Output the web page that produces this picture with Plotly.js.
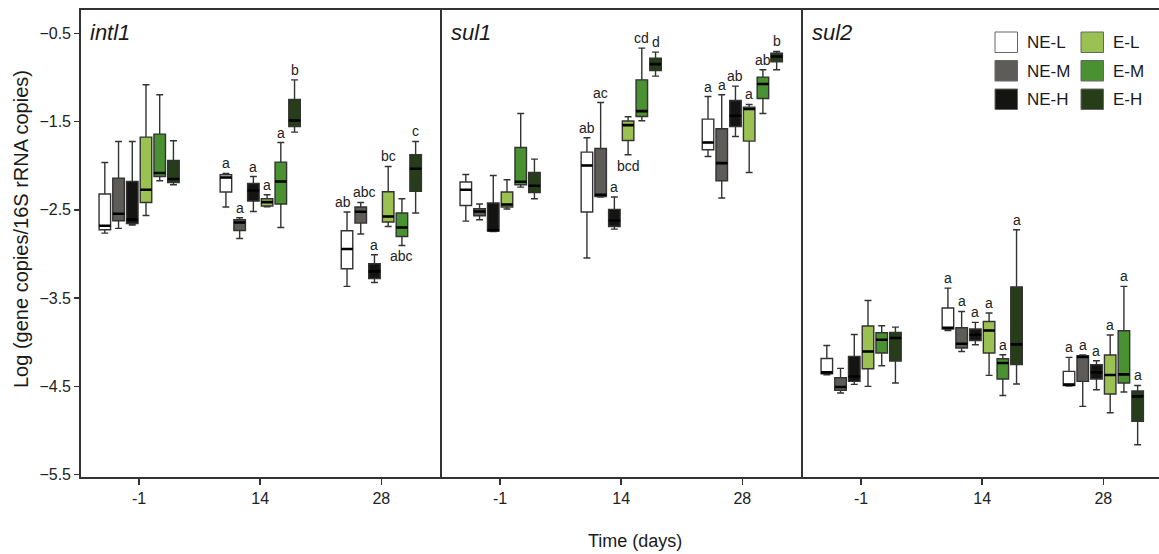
<!DOCTYPE html>
<html><head><meta charset="utf-8">
<script src="https://cdn.plot.ly/plotly-3.0.1.min.js"></script>
<style>html,body{margin:0;padding:0;background:#fff;overflow:hidden}</style>
</head><body><div id="chart" style="width:1159px;height:554px"></div>
<script>
// ---------------- data ----------------
const days = ['-1', '14', '28'];
const groups = ['NE-L', 'NE-M', 'NE-H', 'E-L', 'E-M', 'E-H'];
const colors = ['#ffffff', '#5d5c58', '#141412', '#9cc153', '#4a9132', '#263d19'];
const genes = ['intl1', 'sul1', 'sul2'];

// per group, per day: [lower whisker, Q1, median, Q3, upper whisker]
const intl1 = [
  [[-2.763, -2.725, -2.680, -2.321, -1.963], [-2.468, -2.298, -2.133, -2.103, -2.088], [-3.367, -3.167, -2.944, -2.737, -2.525]],
  [[-2.710, -2.623, -2.544, -2.140, -1.725], [-2.824, -2.733, -2.643, -2.612, -2.589], [-2.774, -2.650, -2.522, -2.468, -2.416]],
  [[-2.672, -2.654, -2.610, -2.178, -1.725], [-2.518, -2.400, -2.280, -2.201, -2.122], [-3.322, -3.277, -3.197, -3.110, -3.008]],
  [[-2.563, -2.416, -2.272, -1.676, -1.083], [-2.465, -2.457, -2.412, -2.374, -2.329], [-2.688, -2.638, -2.575, -2.295, -2.008]],
  [[-2.170, -2.122, -2.083, -1.642, -1.196], [-2.699, -2.434, -2.178, -1.959, -1.737], [-2.903, -2.801, -2.699, -2.536, -2.374]],
  [[-2.216, -2.190, -2.151, -1.940, -1.717], [-1.619, -1.555, -1.488, -1.250, -1.027], [-2.536, -2.291, -2.035, -1.876, -1.725]]
];
const sul1 = [
  [[-2.627, -2.450, -2.272, -2.185, -2.099], [-3.046, -2.525, -1.997, -1.846, -1.683], [-1.895, -1.819, -1.737, -1.472, -1.216]],
  [[-2.612, -2.567, -2.518, -2.488, -2.434], [-2.355, -2.348, -2.329, -1.805, -1.284], [-2.366, -2.170, -1.970, -1.582, -1.196]],
  [[-2.745, -2.740, -2.730, -2.423, -2.110], [-2.718, -2.688, -2.620, -2.495, -2.355], [-1.669, -1.555, -1.434, -1.261, -1.098]],
  [[-2.491, -2.468, -2.439, -2.298, -2.159], [-1.876, -1.714, -1.540, -1.494, -1.446], [-2.076, -1.721, -1.358, -1.336, -1.306]],
  [[-2.242, -2.216, -2.182, -1.793, -1.408], [-1.491, -1.442, -1.381, -1.027, -0.668], [-1.408, -1.238, -1.075, -0.996, -0.913]],
  [[-2.374, -2.303, -2.227, -2.076, -1.925], [-0.985, -0.921, -0.849, -0.781, -0.713], [-0.913, -0.823, -0.763, -0.724, -0.706]]
];
const sul2 = [
  [[-4.367, -4.356, -4.341, -4.183, -4.036], [-3.866, -3.850, -3.835, -3.612, -3.386], [-4.495, -4.490, -4.480, -4.330, -4.171]],
  [[-4.575, -4.545, -4.507, -4.401, -4.296], [-4.104, -4.065, -4.016, -3.835, -3.651], [-4.726, -4.443, -4.167, -4.152, -4.144]],
  [[-4.477, -4.443, -4.387, -4.160, -3.911], [-4.028, -3.979, -3.914, -3.850, -3.775], [-4.537, -4.416, -4.341, -4.254, -4.209]],
  [[-4.500, -4.300, -4.104, -3.816, -3.526], [-4.375, -4.122, -3.866, -3.764, -3.669], [-4.798, -4.586, -4.371, -4.144, -3.918]],
  [[-4.266, -4.122, -3.971, -3.892, -3.813], [-4.602, -4.416, -4.235, -4.186, -4.141], [-4.563, -4.462, -4.364, -3.869, -3.367]],
  [[-4.462, -4.212, -3.952, -3.888, -3.828], [-4.473, -4.251, -4.024, -3.374, -2.725], [-5.160, -4.896, -4.613, -4.552, -4.489]]
];

// significance letters per day (6 groups); 'u' = above upper whisker, 'd' = below lower whisker
const intl1Letters = [['', '', '', '', '', ''], ['a', 'a', 'a', 'a', 'a', 'b'], ['ab', 'abc', 'a', 'bc', 'abc', 'c']];
const intl1LetterPos = [['u', 'u', 'u', 'u', 'u', 'u'], ['u', 'u', 'u', 'u', 'u', 'u'], ['u', 'u', 'u', 'u', 'd', 'u']];
const sul1Letters = [['', '', '', '', '', ''], ['ab', 'ac', 'a', 'bcd', 'cd', 'd'], ['a', 'a', 'ab', 'a', 'ab', 'b']];
const sul1LetterPos = [['u', 'u', 'u', 'u', 'u', 'u'], ['u', 'u', 'u', 'd', 'u', 'u'], ['u', 'u', 'u', 'u', 'u', 'u']];
const sul2Letters = [['', '', '', '', '', ''], ['a', 'a', 'a', 'a', 'a', 'a'], ['a', 'a', 'a', 'a', 'a', 'a']];
const sul2LetterPos = [['u', 'u', 'u', 'u', 'u', 'u'], ['u', 'u', 'u', 'u', 'u', 'u'], ['u', 'u', 'u', 'u', 'u', 'u']];

const yTicks = [-0.5, -1.5, -2.5, -3.5, -4.5, -5.5];
const xTitle = 'Time (days)';
const yTitle = 'Log (gene copies/16S rRNA copies)';

// ---------------- layout geometry ----------------
const W = 1159, H = 554, ML = 81, MR = 0, MT = 10, MB = 77;
const PW = W - ML - MR, PH = H - MT - MB;
const px2x = p => (p - ML) / PW;
const px2y = p => (H - MB - p) / PH;
const panelPx = [[81, 442], [442, 803], [803, 1159]];
const catPx = 121.1;
const xStart = -0.48;
const BOXGAP = 0.32, BOXGROUPGAP = 0.16;
const FONT = 'Liberation Sans, Arial, Helvetica, sans-serif';
const LINE = '#333333';
const LW = 1.8;
// small horizontal nudges (px) for crowded letter labels: key = gene|day|group
const labelNudge = {'intl1|28|NE-L': -4, 'intl1|28|NE-M': 4};

const geneData = [intl1, sul1, sul2];
const geneLetters = [intl1Letters, sul1Letters, sul2Letters];
const genePos = [intl1LetterPos, sul1LetterPos, sul2LetterPos];

const traces = [];
const annotations = [];
const spacing = catPx * (1 - BOXGAP) / groups.length;

geneData.forEach((gd, p) => {
  const xa = p === 0 ? 'x' : 'x' + (p + 1);
  const ya = p === 0 ? 'y' : 'y' + (p + 1);
  gd.forEach((rows, g) => {
    traces.push({
      type: 'box', name: groups[g], xaxis: xa, yaxis: ya,
      x: days,
      lowerfence: rows.map(r => r[0]), q1: rows.map(r => r[1]), median: rows.map(r => r[2]),
      q3: rows.map(r => r[3]), upperfence: rows.map(r => r[4]),
      fillcolor: colors[g], line: {color: LINE, width: 1.4},
      whiskerwidth: 0.6, offsetgroup: groups[g], boxpoints: false,
      showlegend: false, hoverinfo: 'skip'
    });
    // thick black median
    traces.push({
      type: 'box', name: groups[g] + ' median', xaxis: xa, yaxis: ya,
      x: days,
      lowerfence: rows.map(r => r[2]), q1: rows.map(r => r[2]), median: rows.map(r => r[2]),
      q3: rows.map(r => r[2]), upperfence: rows.map(r => r[2]),
      fillcolor: 'rgba(0,0,0,0)', line: {color: '#000000', width: 2.6},
      whiskerwidth: 0, offsetgroup: groups[g], boxpoints: false,
      showlegend: false, hoverinfo: 'skip'
    });
    rows.forEach((r, d) => {
      const txt = geneLetters[p][d][g];
      if (!txt) return;
      const up = genePos[p][d][g] === 'u';
      const nudge = labelNudge[genes[p] + '|' + days[d] + '|' + groups[g]] || 0;
      annotations.push({
        text: txt, xref: xa, yref: ya, x: d, y: up ? r[4] : r[0],
        xshift: (g - (groups.length - 1) / 2) * spacing + nudge,
        yanchor: up ? 'bottom' : 'top', yshift: up ? 0 : -1,
        showarrow: false, font: {family: FONT, size: 14, color: '#222'}
      });
    });
  });
  annotations.push({
    text: '<i>' + genes[p] + '</i>', xref: 'paper', yref: 'paper',
    x: px2x(panelPx[p][0] + 7), y: px2y(32), xanchor: 'left', yanchor: 'middle',
    showarrow: false, font: {family: FONT, size: 22, color: '#1a1a1a'}
  });
});

// titles
annotations.push({
  text: xTitle, xref: 'paper', yref: 'paper', x: px2x(635), y: px2y(541),
  xanchor: 'center', yanchor: 'middle', showarrow: false,
  font: {family: FONT, size: 18, color: '#1a1a1a'}
});
annotations.push({
  text: yTitle, xref: 'paper', yref: 'paper', x: px2x(21), y: px2y(229),
  xanchor: 'center', yanchor: 'middle', textangle: -90, showarrow: false,
  font: {family: FONT, size: 20, color: '#1a1a1a'}
});

// legend (custom swatches)
const shapes = [];
const legCols = [995, 1081];
const legRows = [32, 60.5, 89];
groups.forEach((gname, g) => {
  const col = g < 3 ? 0 : 1, row = g % 3;
  const x0 = legCols[col], y0 = legRows[row];
  shapes.push({
    type: 'rect', xref: 'paper', yref: 'paper',
    x0: px2x(x0), x1: px2x(x0 + 22.5), y0: px2y(y0), y1: px2y(y0 + 20.5),
    fillcolor: colors[g], line: {color: '#666', width: 1}
  });
  annotations.push({
    text: gname, xref: 'paper', yref: 'paper', x: px2x(x0 + 30), y: px2y(y0 + 10.5),
    xanchor: 'left', yanchor: 'middle', showarrow: false,
    font: {family: FONT, size: 17, color: '#1a1a1a'}
  });
});

function xaxis(p) {
  const dom = panelPx[p];
  return {
    domain: [px2x(dom[0]), px2x(dom[1])], anchor: p === 0 ? 'y' : 'y' + (p + 1),
    type: 'category', categoryarray: days, categoryorder: 'array',
    range: [xStart, xStart + (dom[1] - dom[0]) / catPx],
    showline: true, linecolor: LINE, linewidth: LW, mirror: true,
    ticks: 'outside', ticklen: 6, tickwidth: 1.5, tickcolor: LINE,
    showgrid: false, zeroline: false, fixedrange: true,
    tickfont: {family: FONT, size: 16, color: '#222'}
  };
}
function yaxis(p) {
  const base = {
    range: [-5.526, -0.236], anchor: p === 0 ? 'x' : 'x' + (p + 1),
    showline: true, linecolor: LINE, linewidth: LW, mirror: false,
    showgrid: false, zeroline: false, fixedrange: true
  };
  if (p === 0) {
    Object.assign(base, {
      tickvals: yTicks, tickformat: '.1f', ticks: 'outside', ticklen: 5, tickwidth: 1.5,
      tickcolor: LINE, tickfont: {family: FONT, size: 16, color: '#222'}
    });
  } else {
    Object.assign(base, {showticklabels: false, ticks: ''});
  }
  return base;
}

const layout = {
  width: W, height: H, margin: {l: ML, r: MR, t: MT, b: MB, pad: 0},
  paper_bgcolor: '#ffffff', plot_bgcolor: '#ffffff',
  boxmode: 'group', boxgap: BOXGAP, boxgroupgap: BOXGROUPGAP,
  showlegend: false,
  xaxis: xaxis(0), xaxis2: xaxis(1), xaxis3: xaxis(2),
  yaxis: yaxis(0), yaxis2: yaxis(1), yaxis3: yaxis(2),
  annotations: annotations, shapes: shapes,
  font: {family: FONT, color: '#222'}
};

Plotly.newPlot('chart', traces, layout, {displayModeBar: false, staticPlot: true});
</script></body></html>
